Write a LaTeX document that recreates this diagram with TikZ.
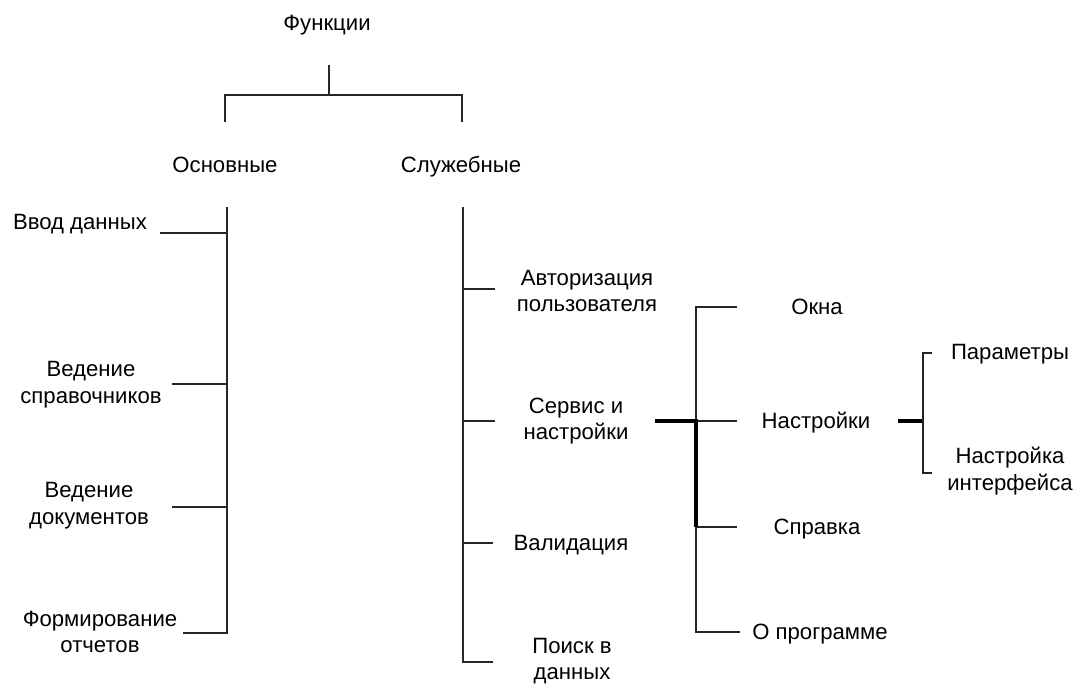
\documentclass[tikz,border=0pt]{standalone}
\usepackage{fontspec}
\setmainfont{Liberation Sans}

\begin{document}
\begin{tikzpicture}[x=0.02cm,y=-0.02cm,
  every node/.style={font=\fontsize{12.6}{15.2}\selectfont,align=center},
  one/.style={text height=1.55ex,text depth=.3ex},
  ln/.style={line width=1.4pt,color=black!85},
  thk/.style={line width=2pt,color=black}]
  \useasboundingbox (0,0) rectangle (1077,683);
  % texts
  \node[one] (fun) at (327,25) {Функции};
  \node[one] (osn) at (225,167) {Основные};
  \node[one] (sluzh) at (461,167) {Служебные};
  \node[one] (vvod) at (80,224) {Ввод данных};
  \node (sprav) at (91,385) {Ведение\\справочников};
  \node (dok) at (89,506) {Ведение\\документов};
  \node (otch) at (100,632) {Формирование\\отчетов};
  \node (avt) at (587,291) {Авторизация\\пользователя};
  \node (serv) at (576,421) {Сервис и\\настройки};
  \node[one] (valid) at (571,545) {Валидация};
  \node (poisk) at (572,661) {Поиск в\\данных};
  \node[one] (okna) at (817,309) {Окна};
  \node[one] (nastr) at (816,423) {Настройки};
  \node[one] (spravka) at (817,529) {Справка};
  \node[one] (oprog) at (820,634) {О программе};
  \node[one] (param) at (1010,354) {Параметры};
  \node (interf) at (1010,471) {Настройка\\интерфейса};
  % top fork
  \coordinate (kt) at (329,65);
  \coordinate (kb) at (329,95);
  \coordinate (ol) at (225,122);
  \coordinate (sr) at (462,122);
  \draw[ln] (kt) -- (kb);
  \draw[ln] (ol) |- (kb) -| (sr);
  % left trunk
  \coordinate (lt) at (227,207);
  \coordinate (a1) at (160,233);
  \coordinate (a2) at (172,384);
  \coordinate (a3) at (172,507);
  \coordinate (a4) at (183,633);
  \draw[ln] (lt) -- (lt |- a4) -- (a4);
  \foreach \c in {a1,a2,a3}
    \draw[ln] (\c) -- (lt |- \c);
  % right trunk
  \coordinate (rt) at (463,207);
  \coordinate (b1) at (495,289);
  \coordinate (b2) at (495,421);
  \coordinate (b3) at (493,543);
  \coordinate (b4) at (493,662);
  \draw[ln] (rt) -- (rt |- b4) -- (b4);
  \foreach \c in {b1,b2,b3}
    \draw[ln] (rt |- \c) -- (\c);
  % service branch
  \coordinate (s0) at (655,421);
  \coordinate (st) at (696,307);
  \coordinate (c1) at (737,307);
  \coordinate (c2) at (737,421);
  \coordinate (c3) at (737,527);
  \coordinate (c4) at (740,632);
  \draw[ln] (c1) -- (st) -- (st |- c4) -- (c4);
  \foreach \c in {c2,c3}
    \draw[ln] (st |- \c) -- (\c);
  \draw[thk] (s0) -- (st |- s0) -- (st |- c3);
  % settings branch
  \coordinate (t0) at (898,421);
  \coordinate (tv) at (923,421);
  \coordinate (d1) at (932,353);
  \coordinate (d2) at (932,473);
  \draw[thk] (t0) -- (tv);
  \draw[ln] (d1) -- (tv |- d1) -- (tv |- d2) -- (d2);
\end{tikzpicture}
\end{document}
